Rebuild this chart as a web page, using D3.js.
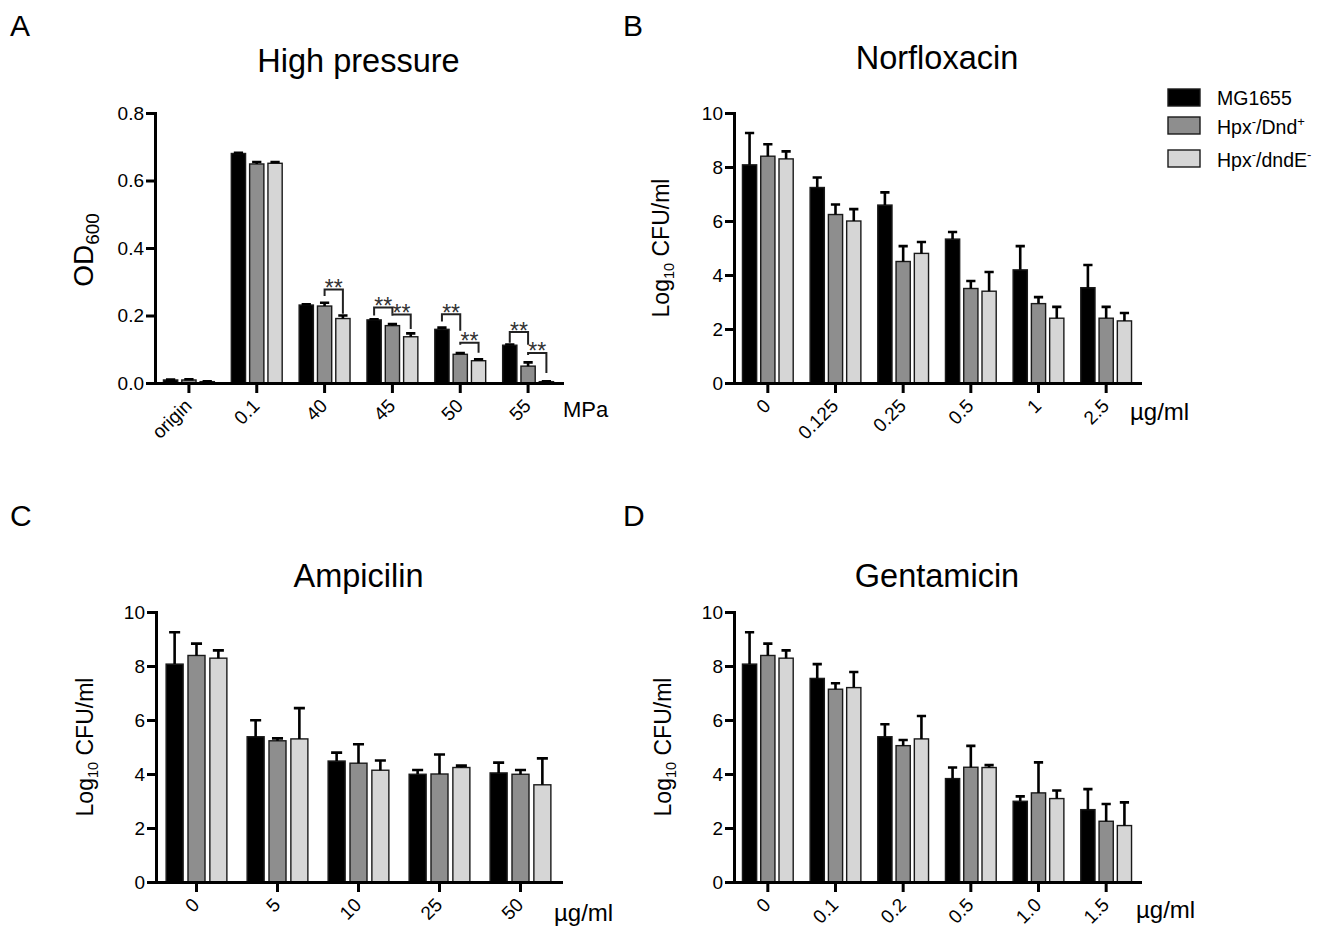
<!DOCTYPE html>
<meta charset="utf-8">
<script src="https://d3js.org/d3.v7.min.js"></script>
<style>
  body { margin: 0; background: #fff; }
  svg text { font-family: "Liberation Sans", Arial, Helvetica, sans-serif; fill: #000; }
</style>
<svg id="chart" width="1334" height="929"></svg>
<script>
// bar fills for MG1655, Hpx-/Dnd+, Hpx-/dndE-
var barColors = ["#000000", "#8e8e8e", "#d6d6d6"];

// A - high pressure, OD600
var pressureLabels = ["origin", "0.1", "40", "45", "50", "55"];
var pressureMG = [0.009, 0.680, 0.231, 0.187, 0.159, 0.112];
var pressureMGsd = [0.001, 0.002, 0.002, 0.002, 0.005, 0.002];
var pressureDnd = [0.009, 0.649, 0.228, 0.170, 0.085, 0.050];
var pressureDndsd = [0.002, 0.006, 0.010, 0.005, 0.004, 0.011];
var pressureDndE = [0.004, 0.651, 0.191, 0.137, 0.066, 0.004];
var pressureDndEsd = [0.001, 0.004, 0.009, 0.010, 0.004, 0.001];
var pressureTicks = [0, 0.2, 0.4, 0.6, 0.8];
// [group, from series, to series, bracket top, left leg end, right leg end]
var pressureBrackets = [
  [2, 1, 2, 0.277, 0.258, 0.205],
  [3, 0, 1, 0.224, 0.200, 0.205],
  [3, 1, 2, 0.203, 0.199, 0.160],
  [4, 0, 1, 0.204, 0.182, 0.155],
  [4, 1, 2, 0.119, 0.113, 0.090],
  [5, 0, 1, 0.151, 0.119, 0.113],
  [5, 1, 2, 0.089, 0.083, 0.030]
];

// B - norfloxacin, log10 CFU/ml
var norLabels = ["0", "0.125", "0.25", "0.5", "1", "2.5"];
var norMG = [8.08, 7.24, 6.59, 5.33, 4.19, 3.53];
var norMGsd = [1.18, 0.37, 0.47, 0.26, 0.88, 0.84];
var norDnd = [8.40, 6.24, 4.50, 3.50, 2.94, 2.40];
var norDndsd = [0.44, 0.37, 0.57, 0.28, 0.24, 0.42];
var norDndE = [8.30, 6.00, 4.80, 3.40, 2.40, 2.30];
var norDndEsd = [0.28, 0.44, 0.42, 0.71, 0.42, 0.29];

// C - ampicilin
var ampLabels = ["0", "5", "10", "25", "50"];
var ampMG = [8.07, 5.38, 4.48, 3.99, 4.04];
var ampMGsd = [1.18, 0.61, 0.31, 0.16, 0.38];
var ampDnd = [8.39, 5.23, 4.40, 4.00, 3.99];
var ampDndsd = [0.44, 0.09, 0.70, 0.72, 0.16];
var ampDndE = [8.29, 5.30, 4.14, 4.24, 3.60];
var ampDndEsd = [0.29, 1.14, 0.36, 0.07, 0.98];

// D - gentamicin
var genLabels = ["0", "0.1", "0.2", "0.5", "1.0", "1.5"];
var genMG = [8.07, 7.54, 5.38, 3.83, 2.99, 2.68];
var genMGsd = [1.18, 0.53, 0.46, 0.41, 0.18, 0.76];
var genDnd = [8.39, 7.14, 5.05, 4.25, 3.30, 2.25];
var genDndsd = [0.44, 0.22, 0.21, 0.79, 1.13, 0.64];
var genDndE = [8.29, 7.20, 5.30, 4.24, 3.09, 2.09];
var genDndEsd = [0.29, 0.58, 0.85, 0.09, 0.30, 0.86];

var cfuTicks = [0, 2, 4, 6, 8, 10];

var svg = d3.select("#chart");

var panels = [
  { letter: "A", lx: 10, ly: 36, title: "High pressure", ty: 72,
    labels: pressureLabels, means: [pressureMG, pressureDnd, pressureDndE],
    sds: [pressureMGsd, pressureDndsd, pressureDndEsd], max: 0.8, ticks: pressureTicks, fmt: d3.format(".1f"),
    left: 155, right: 562, top: 113, bottom: 383,
    ylab: ["OD", "600"], ylabBig: true, ylx: 93, yly: 250,
    unit: "MPa", ux: 563, uy: 417, usize: 22, brackets: pressureBrackets },
  { letter: "B", lx: 623, ly: 36, title: "Norfloxacin", ty: 69,
    labels: norLabels, means: [norMG, norDnd, norDndE],
    sds: [norMGsd, norDndsd, norDndEsd], max: 10, ticks: cfuTicks, fmt: d3.format("d"),
    left: 734, right: 1140, top: 113, bottom: 383,
    ylab: ["Log", "10", " CFU/ml"], ylx: 669, yly: 248,
    unit: "µg/ml", ux: 1130, uy: 420, usize: 24 },
  { letter: "C", lx: 10, ly: 526, title: "Ampicilin", ty: 587,
    labels: ampLabels, means: [ampMG, ampDnd, ampDndE],
    sds: [ampMGsd, ampDndsd, ampDndEsd], max: 10, ticks: cfuTicks, fmt: d3.format("d"),
    left: 156, right: 561, top: 612, bottom: 882,
    ylab: ["Log", "10", " CFU/ml"], ylx: 93, yly: 747,
    unit: "µg/ml", ux: 554, uy: 921, usize: 24 },
  { letter: "D", lx: 623, ly: 526, title: "Gentamicin", ty: 587,
    labels: genLabels, means: [genMG, genDnd, genDndE],
    sds: [genMGsd, genDndsd, genDndEsd], max: 10, ticks: cfuTicks, fmt: d3.format("d"),
    left: 734, right: 1140, top: 612, bottom: 882,
    ylab: ["Log", "10", " CFU/ml"], ylx: 671, yly: 747,
    unit: "µg/ml", ux: 1136, uy: 918, usize: 24 }
];

panels.forEach(drawPanel);
drawLegend();

function drawPanel(p) {
  var g = svg.append("g");
  var x = d3.scaleBand().domain(p.labels).range([p.left, p.right]);
  var y = d3.scaleLinear().domain([0, p.max]).range([p.bottom, p.top]);
  var step = x.step();
  var xs = d3.scalePoint().domain([0, 1, 2]).range([-0.27 * step, 0.27 * step]);
  var bw = 0.21 * step;
  var cx = function (s, i) { return x(p.labels[i]) + step / 2 + xs(s); };

  var rows = [];
  p.means.forEach(function (ser, s) {
    ser.forEach(function (v, i) { rows.push({ s: s, i: i, v: v, sd: p.sds[s][i] }); });
  });

  g.selectAll("rect.bar").data(rows).enter().append("rect")
    .attr("class", "bar")
    .attr("x", function (d) { return cx(d.s, d.i) - bw / 2; })
    .attr("y", function (d) { return y(d.v); })
    .attr("width", bw)
    .attr("height", function (d) { return y(0) - y(d.v); })
    .attr("fill", function (d) { return barColors[d.s]; })
    .attr("stroke", "#1a1a1a")
    .attr("stroke-width", 1.4);

  // error bars (upper only)
  var cap = 0.65 * bw;
  g.selectAll("path.err").data(rows).enter().append("path")
    .attr("class", "err")
    .attr("d", function (d) {
      var c = cx(d.s, d.i), t = y(d.v + d.sd);
      return "M" + c + "," + y(d.v) + "V" + t + "M" + (c - cap / 2) + "," + t + "H" + (c + cap / 2);
    })
    .attr("stroke", "#000")
    .attr("stroke-width", 2.6)
    .attr("fill", "none");

  // axes
  var yAxis = g.append("g").attr("transform", "translate(" + p.left + ",0)")
    .call(d3.axisLeft(y).tickValues(p.ticks).tickFormat(p.fmt).tickSize(9).tickPadding(2).tickSizeOuter(0));
  var xAxis = g.append("g").attr("transform", "translate(0," + p.bottom + ")")
    .call(d3.axisBottom(x).tickSize(10).tickSizeOuter(0));

  [yAxis, xAxis].forEach(function (a) {
    a.select(".domain").attr("stroke", "#000").attr("stroke-width", 3).attr("stroke-linecap", "square");
    a.selectAll(".tick line").attr("stroke", "#000").attr("stroke-width", 3);
    a.selectAll(".tick text").style("font-size", "19px").style("font-family", null).attr("fill", "#000");
  });
  xAxis.selectAll(".tick text")
    .attr("x", 0).attr("y", 0).attr("dy", 0)
    .attr("transform", "translate(4,24) rotate(-45)")
    .style("text-anchor", "end");

  // texts
  svg.append("text").attr("x", p.lx).attr("y", p.ly).style("font-size", "30px").text(p.letter);
  svg.append("text").attr("x", (p.left + p.right) / 2).attr("y", p.ty)
    .attr("text-anchor", "middle").style("font-size", "32.5px").text(p.title);
  svg.append("text").attr("x", p.ux).attr("y", p.uy).style("font-size", p.usize + "px").text(p.unit);

  var yl = svg.append("text")
    .attr("transform", "translate(" + p.ylx + "," + p.yly + ") rotate(-90)")
    .attr("text-anchor", "middle")
    .style("font-size", p.ylabBig ? "28px" : "23px");
  yl.append("tspan").text(p.ylab[0]);
  yl.append("tspan").attr("dy", p.ylabBig ? 6 : 5).style("font-size", p.ylabBig ? "19px" : "14.5px").text(p.ylab[1]);
  if (p.ylab[2]) yl.append("tspan").attr("dy", -5).text(p.ylab[2]);

  // significance brackets
  if (p.brackets) {
    p.brackets.forEach(function (b) {
      var xL = cx(b[1], b[0]), xR = cx(b[2], b[0]);
      g.append("path")
        .attr("d", "M" + xL + "," + y(b[4]) + "V" + y(b[3]) + "H" + xR + "V" + y(b[5]))
        .attr("stroke", "#222").attr("stroke-width", 2).attr("fill", "none");
      g.append("text").attr("x", (xL + xR) / 2).attr("y", y(b[3]) + 6.5)
        .attr("text-anchor", "middle").style("font-size", "23px")
        .style("fill", "#333").text("**");
    });
  }
}

function drawLegend() {
  var items = [
    [["MG1655", 0]],
    [["Hpx", 0], ["-", 1], ["/Dnd", 0], ["+", 1]],
    [["Hpx", 0], ["-", 1], ["/dndE", 0], ["-", 1]]
  ];
  var boxY = [89, 117, 150];
  var textY = [105, 134, 167];
  items.forEach(function (parts, k) {
    svg.append("rect").attr("x", 1168).attr("y", boxY[k]).attr("width", 32).attr("height", 17)
      .attr("fill", barColors[k]).attr("stroke", "#1a1a1a").attr("stroke-width", 1.4);
    var t = svg.append("text").attr("x", 1217).attr("y", textY[k]).style("font-size", "19.5px");
    var up = false;
    parts.forEach(function (pt) {
      var s = t.append("tspan").text(pt[0]);
      if (pt[1] && !up) { s.attr("dy", -8).style("font-size", "13px"); up = true; }
      else if (!pt[1] && up) { s.attr("dy", 8); up = false; }
      else if (pt[1]) { s.style("font-size", "13px"); }
    });
  });
}
</script>
